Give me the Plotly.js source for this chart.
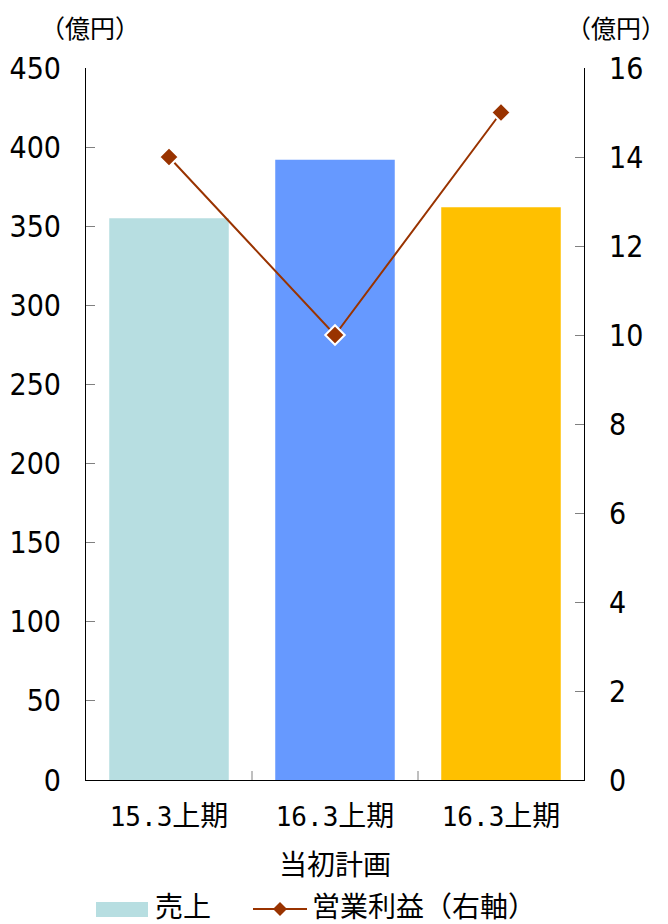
<!DOCTYPE html>
<html><head><meta charset="utf-8">
<script src="https://cdn.plot.ly/plotly-3.0.1.min.js"></script>
<style>body{margin:0;background:#fff}#c{width:668px;height:924px}</style>
</head><body><div id="c"></div>
<script>
const categories = ["15.3上期", "16.3上期", "16.3上期"];
const categorySub = ["", "当初計画", ""];
const catKeys = ["a", "b", "c"];
const sales = [355, 392, 362];
const profit = [14, 10, 15];
const barColors = ["#B7DEE1", "#6699FF", "#FFC000"];
const leftTicks = [0, 50, 100, 150, 200, 250, 300, 350, 400, 450];
const rightTicks = [0, 2, 4, 6, 8, 10, 12, 14, 16];
const legendNames = ["売上", "営業利益（右軸）"];
const unitLabel = "（億円）";

const CJK = "Noto Sans CJK JP, sans-serif";
const NUM = "DejaVu Sans Condensed, Noto Sans CJK JP, sans-serif";
const MONO = "DejaVu Sans Mono, Noto Sans CJK JP, sans-serif";

// plot area in pixels
const L = 86, R = 584, T = 68, B = 780;
const px = v => (v - L) / (R - L);
const py = v => (B - v) / (B - T);

const tickText = categories.map(t => t.replace(/([^\x00-\x7F]+)/g, '<span style="font-size:28px">$1</span>'));

const traces = [
  {type: "bar", name: legendNames[0], x: catKeys, y: sales, marker: {color: barColors}, width: 0.72, yaxis: "y", showlegend: false},
  {type: "scatter", mode: "lines+markers", name: legendNames[1], x: catKeys, y: profit, yaxis: "y2", showlegend: false,
   line: {color: "#993300", width: 2}, marker: {symbol: "diamond", size: 15, color: "#993300", line: {color: "#fff", width: 2}}}
];

const shapes = [0.5, 1.5].map(v => ({type: "line", xref: "x", yref: "paper", x0: v, x1: v, y0: 0, y1: 9 / (B - T), line: {color: "#808080", width: 1}}));
// legend symbols
shapes.push({type: "rect", xref: "paper", yref: "paper", x0: px(96), x1: px(148), y0: py(917), y1: py(902), fillcolor: barColors[0], line: {width: 0}});
shapes.push({type: "line", xref: "paper", yref: "paper", x0: px(253), x1: px(307), y0: py(909), y1: py(909), line: {color: "#993300", width: 2}});
shapes.push({type: "path", xref: "paper", yref: "paper",
  path: `M${px(280)},${py(902)} L${px(287)},${py(909)} L${px(280)},${py(916)} L${px(273)},${py(909)} Z`,
  fillcolor: "#993300", line: {width: 0}});

const annotations = [
  {text: unitLabel, xref: "paper", yref: "paper", x: px(90), y: py(27), xanchor: "center", yanchor: "middle", showarrow: false, font: {family: CJK, size: 25}},
  {text: unitLabel, xref: "paper", yref: "paper", x: px(668), y: py(27), xanchor: "right", yanchor: "middle", showarrow: false, font: {family: CJK, size: 25}},
  {text: legendNames[0], xref: "paper", yref: "paper", x: px(153), y: py(905), xanchor: "left", yanchor: "middle", showarrow: false, font: {family: CJK, size: 28}},
  {text: legendNames[1], xref: "paper", yref: "paper", x: px(310), y: py(905), xanchor: "left", yanchor: "middle", showarrow: false, font: {family: CJK, size: 28}}
];
categorySub.forEach((s, i) => {
  if (s) annotations.push({text: s, xref: "x", yref: "paper", x: catKeys[i], y: py(863), xanchor: "center", yanchor: "middle", showarrow: false, font: {family: CJK, size: 28}});
});

const layout = {
  width: 668, height: 924,
  margin: {l: L, r: 668 - R, t: T, b: 924 - B, autoexpand: false},
  paper_bgcolor: "#fff", plot_bgcolor: "#fff",
  font: {family: CJK, size: 25, color: "#000"},
  showlegend: false,
  xaxis: {type: "category", tickmode: "array", tickvals: catKeys, ticktext: tickText,
    tickfont: {family: MONO, size: 26},
    showline: true, linecolor: "#000", linewidth: 1, ticks: "", showgrid: false, ticklabelstandoff: 14, zeroline: false},
  yaxis: {range: [0, 450], tickvals: leftTicks, showline: true, linecolor: "#000", linewidth: 1,
    tickfont: {family: NUM, size: 30},
    ticks: "inside", ticklen: 9, tickcolor: "#808080", showgrid: false, zeroline: false, ticklabelstandoff: 18},
  yaxis2: {range: [0, 16], tickvals: rightTicks, overlaying: "y", side: "right", showline: true, linecolor: "#000", linewidth: 1,
    tickfont: {family: NUM, size: 30},
    ticks: "inside", ticklen: 9, tickcolor: "#808080", showgrid: false, zeroline: false, ticklabelstandoff: 18},
  shapes: shapes,
  annotations: annotations
};
Plotly.newPlot("c", traces, layout, {displayModeBar: false});
</script></body></html>
